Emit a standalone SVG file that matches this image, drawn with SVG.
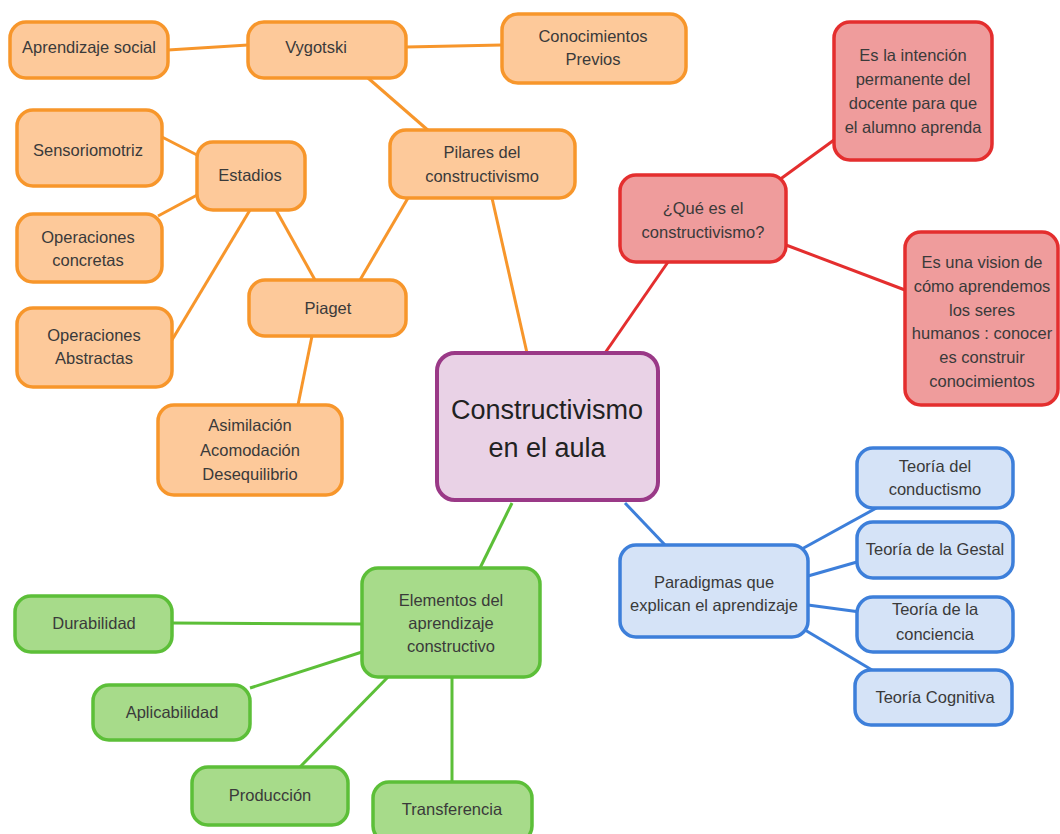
<svg xmlns="http://www.w3.org/2000/svg" width="1060" height="834" viewBox="0 0 1060 834">
<style>
text{font-family:"Liberation Sans",Arial,sans-serif;font-size:16.5px;fill:#3a3a3a;text-anchor:middle}
.o rect{fill:#FDC99A;stroke:#F7962B;stroke-width:3.5}
.r rect{fill:#EF9C9C;stroke:#E42E2E;stroke-width:3.5}
.b rect{fill:#D5E3F7;stroke:#3D7FDA;stroke-width:3.5}
.g rect{fill:#A7DB8A;stroke:#5CBF38;stroke-width:3.5}
.c rect{fill:#E9D2E6;stroke:#9A3987;stroke-width:4}
.c text{font-size:27px;fill:#222}
#connectors line{stroke-width:3}
.lo{stroke:#F7962B}.lr{stroke:#E42E2E}.lb{stroke:#3D7FDA}.lg{stroke:#5CBF38}
</style>
<rect width="1060" height="834" fill="#ffffff"/>
<g id="connectors">
<line class="lo" x1="168" y1="50" x2="248" y2="45"/>
<line class="lo" x1="406" y1="47" x2="502" y2="45"/>
<line class="lo" x1="368" y1="78" x2="430" y2="132"/>
<line class="lo" x1="162" y1="137" x2="197" y2="155"/>
<line class="lo" x1="158" y1="216" x2="199" y2="194"/>
<line class="lo" x1="250" y1="210" x2="172" y2="340"/>
<line class="lo" x1="276" y1="210" x2="315" y2="280"/>
<line class="lo" x1="408" y1="198" x2="360" y2="280"/>
<line class="lo" x1="312" y1="336" x2="298" y2="405"/>
<line class="lo" x1="492" y1="198" x2="527" y2="353"/>
<line class="lr" x1="605" y1="353" x2="668" y2="262"/>
<line class="lr" x1="775" y1="183" x2="834" y2="140"/>
<line class="lr" x1="786" y1="245" x2="905" y2="290"/>
<line class="lb" x1="625" y1="503" x2="665" y2="545"/>
<line class="lb" x1="800" y1="550" x2="880" y2="506"/>
<line class="lb" x1="808" y1="576" x2="857" y2="562"/>
<line class="lb" x1="808" y1="605" x2="860" y2="612"/>
<line class="lb" x1="805" y1="630" x2="872" y2="670"/>
<line class="lg" x1="512" y1="503" x2="480" y2="568"/>
<line class="lg" x1="362" y1="624" x2="172" y2="623"/>
<line class="lg" x1="362" y1="652" x2="250" y2="688"/>
<line class="lg" x1="388" y1="677" x2="300" y2="767"/>
<line class="lg" x1="452" y1="677" x2="452" y2="782"/>
</g>
<g id="n-aprendizaje-social" class="o"><rect x="10" y="22" width="158" height="56" rx="16"/><text x="89" y="53">Aprendizaje social</text></g>
<g id="n-vygotski" class="o"><rect x="248" y="22" width="158" height="56" rx="16"/><text x="316" y="53">Vygotski</text></g>
<g id="n-conocimientos" class="o"><rect x="502" y="14" width="184" height="69" rx="16"/><text x="593" y="42">Conocimientos</text><text x="593" y="65">Previos</text></g>
<g id="n-sensoriomotriz" class="o"><rect x="17" y="110" width="145" height="76" rx="16"/><text x="88" y="156">Sensoriomotriz</text></g>
<g id="n-estadios" class="o"><rect x="197" y="142" width="108" height="68" rx="16"/><text x="250" y="181">Estadios</text></g>
<g id="n-pilares" class="o"><rect x="390" y="130" width="185" height="68" rx="16"/><text x="482" y="158">Pilares del</text><text x="482" y="182">constructivismo</text></g>
<g id="n-op-concretas" class="o"><rect x="17" y="214" width="145" height="68" rx="16"/><text x="88" y="243">Operaciones</text><text x="88" y="266">concretas</text></g>
<g id="n-op-abstractas" class="o"><rect x="17" y="308" width="155" height="79" rx="16"/><text x="94" y="341">Operaciones</text><text x="94" y="364">Abstractas</text></g>
<g id="n-piaget" class="o"><rect x="249" y="280" width="157" height="56" rx="16"/><text x="328" y="314">Piaget</text></g>
<g id="n-asimilacion" class="o"><rect x="158" y="405" width="184" height="90" rx="16"/><text x="250" y="431">Asimilación</text><text x="250" y="456">Acomodación</text><text x="250" y="480">Desequilibrio</text></g>
<g id="n-center" class="c"><rect x="437" y="353" width="221" height="147" rx="18"/><text x="547" y="419">Constructivismo</text><text x="547" y="457">en el aula</text></g>
<g id="n-que-es" class="r"><rect x="620" y="175" width="166" height="87" rx="16"/><text x="703" y="214">¿Qué es el</text><text x="703" y="238">constructivismo?</text></g>
<g id="n-intencion" class="r"><rect x="834" y="22" width="158" height="138" rx="16"/><text x="913" y="61">Es la intención</text><text x="913" y="85">permanente del</text><text x="913" y="109">docente para que</text><text x="913" y="133">el alumno aprenda</text></g>
<g id="n-vision" class="r"><rect x="905" y="232" width="153" height="173" rx="16"/><text x="982" y="268">Es una vision de</text><text x="982" y="292">cómo aprendemos</text><text x="982" y="316">los seres</text><text x="982" y="339">humanos : conocer</text><text x="982" y="363">es construir</text><text x="982" y="387">conocimientos</text></g>
<g id="n-paradigmas" class="b"><rect x="620" y="545" width="188" height="92" rx="16"/><text x="714" y="588">Paradigmas que</text><text x="714" y="611">explican el aprendizaje</text></g>
<g id="n-conductismo" class="b"><rect x="857" y="448" width="156" height="60" rx="16"/><text x="935" y="472">Teoría del</text><text x="935" y="495">conductismo</text></g>
<g id="n-gestal" class="b"><rect x="857" y="522" width="156" height="56" rx="16"/><text x="935" y="555">Teoría de la Gestal</text></g>
<g id="n-conciencia" class="b"><rect x="857" y="597" width="156" height="55" rx="16"/><text x="935" y="615">Teoría de la</text><text x="935" y="640">conciencia</text></g>
<g id="n-cognitiva" class="b"><rect x="855" y="670" width="157" height="55" rx="16"/><text x="935" y="703">Teoría Cognitiva</text></g>
<g id="n-elementos" class="g"><rect x="362" y="568" width="178" height="109" rx="16"/><text x="451" y="606">Elementos del</text><text x="451" y="629">aprendizaje</text><text x="451" y="652">constructivo</text></g>
<g id="n-durabilidad" class="g"><rect x="15" y="596" width="157" height="56" rx="16"/><text x="94" y="629">Durabilidad</text></g>
<g id="n-aplicabilidad" class="g"><rect x="93" y="685" width="157" height="55" rx="16"/><text x="172" y="718">Aplicabilidad</text></g>
<g id="n-produccion" class="g"><rect x="192" y="767" width="156" height="58" rx="16"/><text x="270" y="801">Producción</text></g>
<g id="n-transferencia" class="g"><rect x="373" y="782" width="159" height="60" rx="16"/><text x="452" y="815">Transferencia</text></g>
</svg>
